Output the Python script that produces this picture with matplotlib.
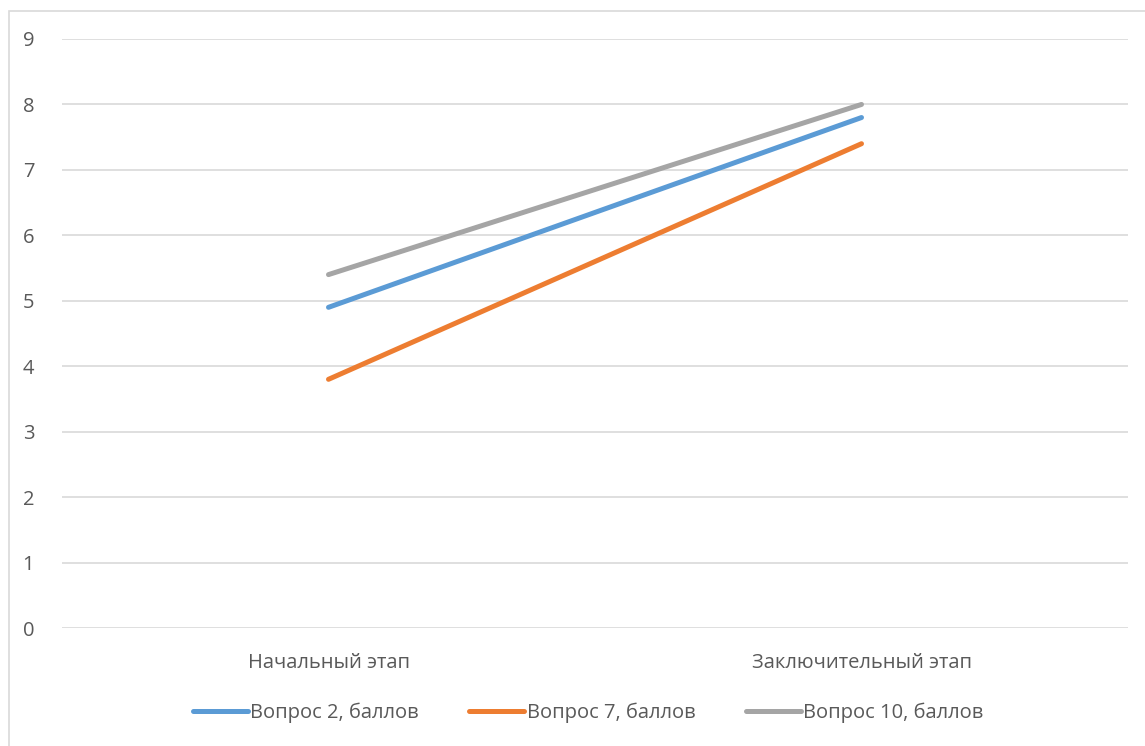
import numpy as np
import matplotlib.pyplot as plt
from matplotlib.patches import Rectangle

plt.rcParams['font.family'] = ['Open Sans', 'DejaVu Sans']

stages = ['Начальный этап', 'Заключительный этап']
q2 = [4.9, 7.8]
q7 = [3.8, 7.4]
q10 = [5.4, 8.0]
series_names = ['Вопрос 2, баллов', 'Вопрос 7, баллов', 'Вопрос 10, баллов']
colors = ['#5B9BD5', '#ED7D31', '#A5A5A5']

W, H = 1145, 746
fig = plt.figure(figsize=(W / 100, H / 100), dpi=100)

# chart area border (runs off right and bottom like in the screenshot)
fig.patches.append(Rectangle((9 / W, -0.1), 1.2, 1 - 11 / H + 0.1,
                             transform=fig.transFigure, fill=False,
                             edgecolor='#D9D9D9', linewidth=1.2))

ax = fig.add_axes([62 / W, 1 - 628 / H, (1128 - 62) / W, (628 - 39) / H])

x = np.arange(len(stages))
for vals, name, c in zip([q2, q7, q10], series_names, colors):
    ax.plot(x, vals, color=c, linewidth=3.6, solid_capstyle='round', label=name)

ax.set_xlim(-0.5, 1.5)
ax.set_ylim(0, 9)
ax.set_yticks(range(0, 10))
ax.set_xticks(x)
ax.set_xticklabels(stages)
ax.grid(axis='y', color='#D9D9D9', linewidth=1.2)
ax.set_axisbelow(True)
for s in ax.spines.values():
    s.set_visible(False)
ax.tick_params(axis='both', length=0, labelsize=14.5, colors='#595959')
ax.tick_params(axis='y', pad=20)
ax.tick_params(axis='x', pad=18)

leg = fig.legend(loc='center', bbox_to_anchor=(588 / W, 1 - 713 / H), ncol=3,
                 frameon=False, fontsize=14.5, handlelength=2.75,
                 handletextpad=0.1, columnspacing=2.5)
for t in leg.get_texts():
    t.set_color('#595959')

fig.savefig('out.png', dpi=100)
